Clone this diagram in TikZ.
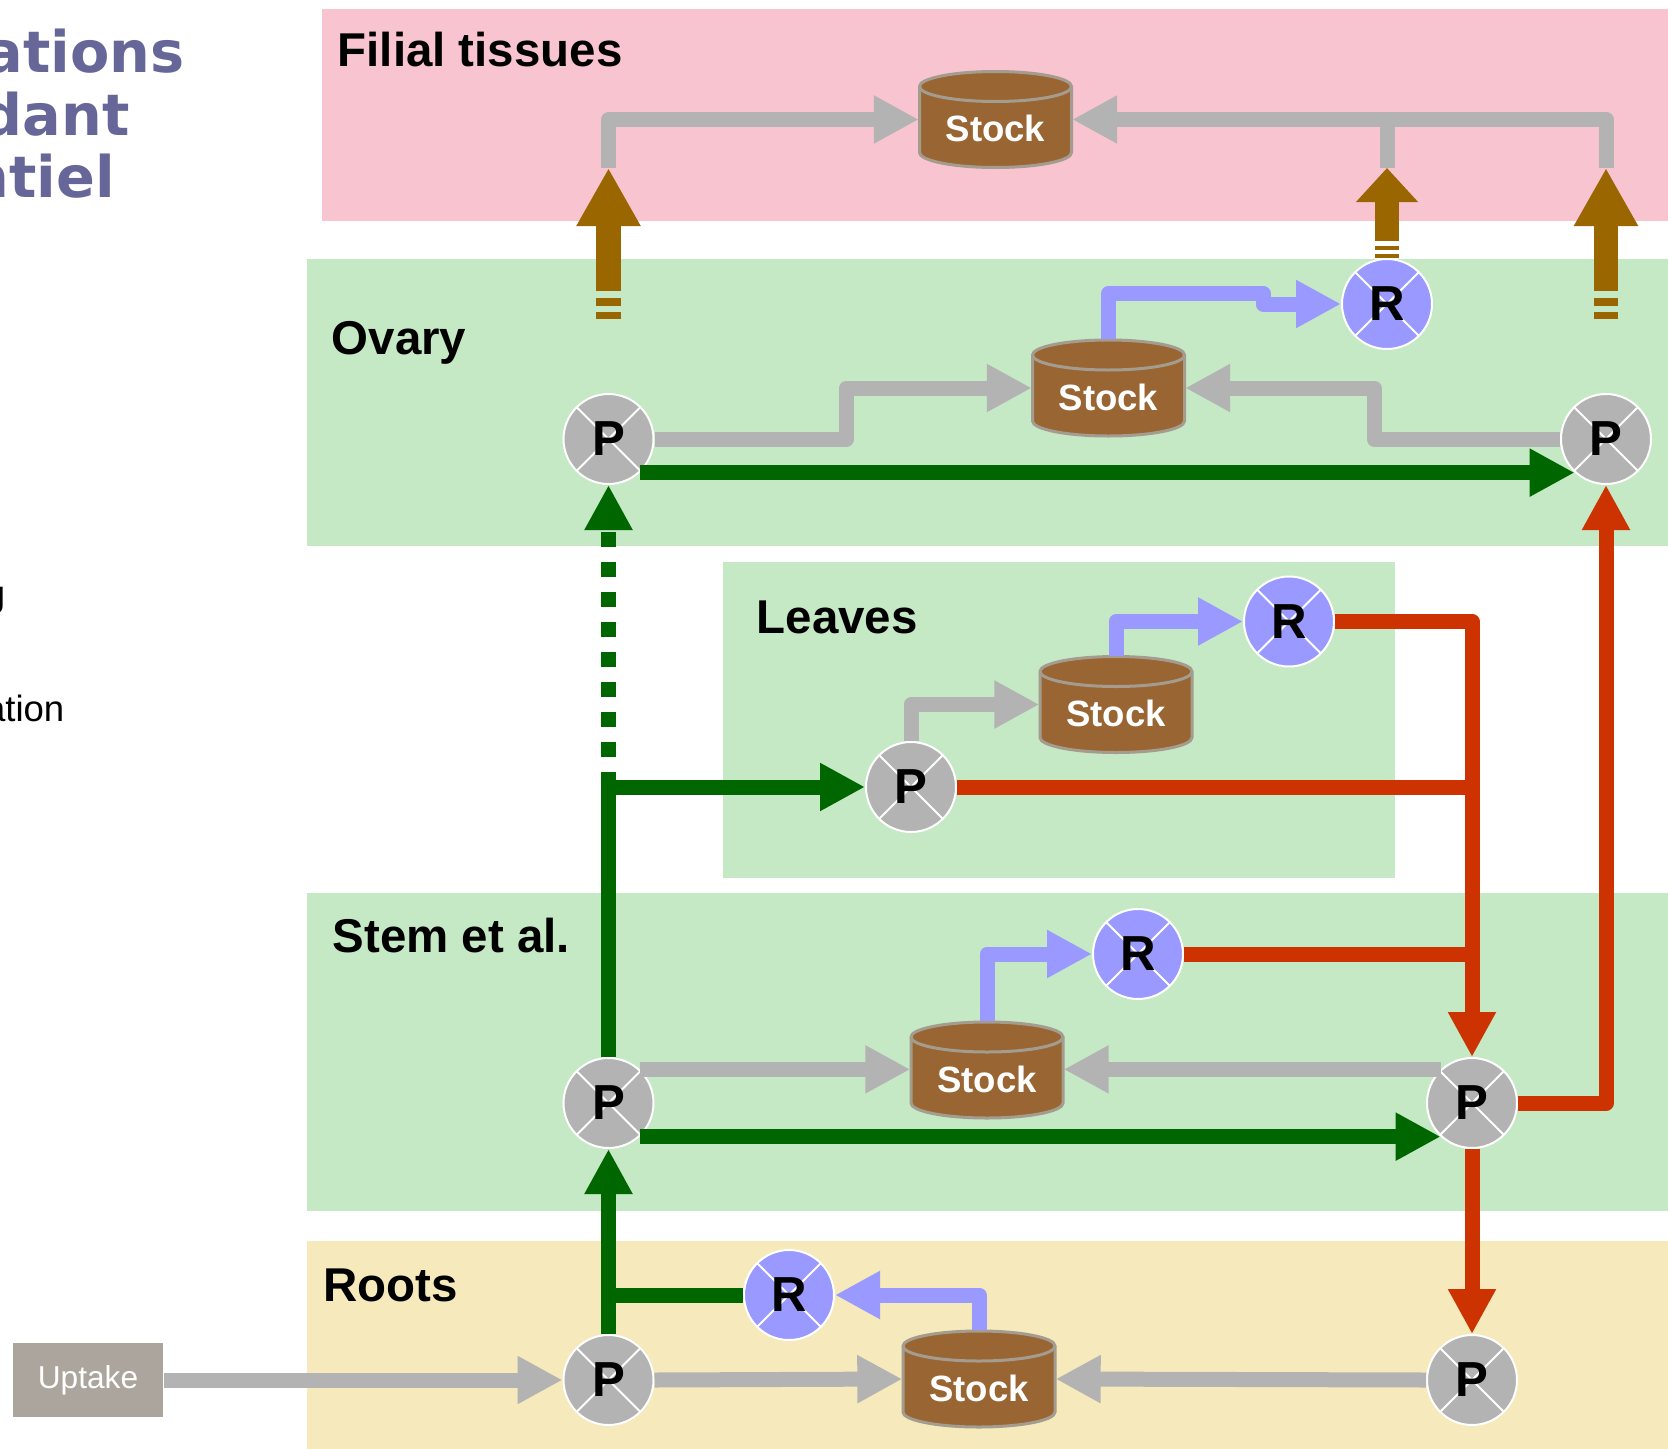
\documentclass[tikz,border=0pt]{standalone}
\usepackage{fontspec}
\setmainfont{Liberation Sans}
\newfontfamily\titlefont{DejaVu Sans}
\usepackage{xcolor}
\usepackage{tikz}
\usetikzlibrary{arrows.meta, positioning, calc}

\definecolor{pinkband}{HTML}{F8C4CF}
\definecolor{greenband}{HTML}{C5E8C5}
\definecolor{yellowband}{HTML}{F6E9BB}
\definecolor{pgray}{HTML}{B3B3B3}
\definecolor{rblue}{HTML}{9999FF}
\definecolor{fred}{HTML}{CC3300}
\definecolor{fgreen}{HTML}{006600}
\definecolor{fbrown}{HTML}{996600}
\definecolor{stockbrown}{HTML}{996633}
\definecolor{stockedge}{HTML}{A39C8F}
\definecolor{titlepurple}{HTML}{666699}
\definecolor{uptakegray}{HTML}{ACA59E}

\tikzset{
  organ/.style={font=\fontsize{13.5}{16}\selectfont\bfseries, anchor=base west, inner sep=0pt},
  titletext/.style={font=\titlefont\fontsize{16.3}{18}\selectfont\bfseries, text=titlepurple, anchor=base west, inner sep=0pt},
  note/.style={font=\fontsize{10.4}{12}\selectfont, anchor=base east, inner sep=0pt},
  pnode/.style={circle, fill=pgray, draw=white, line width=0.2mm, minimum size=0.9cm, inner sep=0pt,
    font=\fontsize{14}{16}\selectfont\bfseries,
    path picture={\draw[white, line width=0.2mm]
      (path picture bounding box.north west) -- (path picture bounding box.south east)
      (path picture bounding box.north east) -- (path picture bounding box.south west);}},
  rnode/.style={pnode, fill=rblue},
  stockbox/.style={minimum width=1.52cm, minimum height=0.96cm, inner sep=0pt, text=white,
    font=\fontsize{10.4}{12}\selectfont\bfseries},
  uptake/.style={fill=uptakegray, text=white, minimum width=1.5cm, minimum height=0.74cm, inner sep=0pt,
    font=\fontsize{9}{11}\selectfont},
  flow/.style={line width=1.5mm, line join=round, -{Triangle[length=4.5mm, width=4.5mm]}},
  flowline/.style={line width=1.5mm, line join=round},
  export/.style={line width=2.45mm, fbrown, -{Triangle[length=5.8mm, width=6mm]}}
}
\newcommand{\stock}[3]{%
  \begin{scope}[shift={(#1,#2)}]
    \filldraw[fill=stockbrown, draw=stockedge, line width=0.3mm]
      (-0.76,0.33) -- (-0.76,-0.33) arc[start angle=180, end angle=360, x radius=0.76, y radius=0.15]
      -- (0.76,0.33) arc[start angle=0, end angle=180, x radius=0.76, y radius=0.15] -- cycle;
    \draw[stockedge, line width=0.3mm] (-0.76,0.33) arc[start angle=180, end angle=360, x radius=0.76, y radius=0.15];
  \end{scope}
  \node[stockbox] (#3) at (#1,#2) {\raisebox{-0.9mm}[\height][\depth]{Stock}};
}

\begin{document}
\begin{tikzpicture}
  \useasboundingbox (0,0) rectangle (16.68,-14.49);

  % Organ bands
  \fill[pinkband] (3.22,-0.09) rectangle (16.68,-2.21);
  \fill[greenband] (3.07,-2.59) rectangle (16.68,-5.46);
  \fill[greenband] (7.23,-5.62) rectangle (13.95,-8.78);
  \fill[greenband] (3.07,-8.93) rectangle (16.68,-12.11);
  \fill[yellowband] (3.07,-12.41) rectangle (16.68,-14.49);

  % Title and side notes
  \node[titletext] (ttl1) at (-0.16,-0.72) {ations};
  \node[titletext] (ttl2) at (-0.19,-1.35) {dant};
  \node[titletext] (ttl3) at (-0.32,-1.97) {ntiel};
  \node[note] (nt1) at (0.06,-6.06) {g};
  \node[note] (nt2) at (0.65,-7.21) {ation};

  % Organ labels
  \node[organ] (lfil)  at (3.37,-0.665) {Filial tissues};
  \node[organ] (lov)   at (3.31,-3.54)  {Ovary};
  \node[organ] (lleaf) at (7.56,-6.33)  {Leaves};
  \node[organ] (lstem) at (3.32,-9.52)  {Stem et al.};
  \node[organ] (lroot) at (3.23,-13.01) {Roots};

  % Stocks
  \stock{9.955}{-1.195}{sfil}
  \stock{11.085}{-3.88}{sov}
  \stock{11.16}{-7.045}{sleaf}
  \stock{9.87}{-10.70}{sst}
  \stock{9.79}{-13.79}{srt}

  % P and R nodes
  \node[pnode] (pov1)  at (6.085,-4.39)  {P};
  \node[pnode] (pov2)  at (16.06,-4.39)  {P};
  \node[pnode] (pleaf) at (9.11,-7.87)   {P};
  \node[pnode] (pst1)  at (6.085,-11.03) {P};
  \node[pnode] (pst2)  at (14.72,-11.03) {P};
  \node[pnode] (prt1)  at (6.085,-13.80) {P};
  \node[pnode] (prt2)  at (14.72,-13.80) {P};
  \node[rnode] (rov)   at (13.87,-3.04)  {R};
  \node[rnode] (rleaf) at (12.89,-6.215) {R};
  \node[rnode] (rst)   at (11.38,-9.54)  {R};
  \node[rnode] (rrt)   at (7.89,-12.95)  {R};
  \node[uptake] (upt)  at (0.88,-13.80)  {Uptake};

  % Export to filial tissues
  \coordinate (tipL) at (6.085,-1.68);
  \coordinate (tipM) at (13.87,-1.68);
  \coordinate (tipR) at (16.06,-1.68);
  \coordinate (baseL) at (6.085,-3.19);
  \coordinate (baseR) at (16.06,-3.19);
  \draw[flow, pgray] (tipL) |- (sfil.west);
  \draw[flow, pgray] (tipR) |- (sfil.east);
  \draw[flowline, pgray] (tipM) -- (tipM |- sfil.east);
  \draw[export, dash pattern=on 0.7mm off 0.6mm on 0.8mm off 0.7mm on 3cm] (baseL) -- (tipL);
  \draw[export, dash pattern=on 0.7mm off 0.6mm on 0.8mm off 0.7mm on 3cm] (baseR) -- (tipR);
  \draw[export, -{Triangle[length=3.4mm, width=6mm]}, dash pattern=on 0.4mm off 0.4mm on 0.4mm off 0.5mm on 3cm] (rov.north) -- (tipM);

  % Ovary
  \draw[flow, pgray] (pov1.east) -- ++(1.92,0) |- (sov.west);
  \draw[flow, pgray] (pov2.west) -- ++(-1.86,0) |- (sov.east);
  \draw[flow, rblue] (sov.north) |- (12.63,-2.935) |- (rov.west);
  \draw[flow, fgreen] (pov1.-47) -- (pov2.-133);

  % Main stem path
  \coordinate (jL) at (pov1 |- pleaf);
  \draw[flow, fgreen, dash pattern=on 1.55mm off 1.45mm] (jL) -- (pov1.south);
  \draw[flowline, fgreen] (pst1.north) -- (jL);
  \draw[flow, fgreen] (jL) -- (pleaf.west);
  \draw[flow, fgreen] (prt1.north) -- (pst1.south);
  \draw[flowline, fgreen] (prt1 |- rrt) -- (rrt.west);

  % Leaves
  \draw[flow, pgray] (pleaf.north) |- (sleaf.west);
  \draw[flow, rblue] (sleaf.north) |- (rleaf.west);
  \draw[flow, fred] (rleaf.east) -| (pst2.north);
  \draw[flowline, fred] (pleaf.east) -- (pleaf -| pst2);
  \draw[flowline, fred] (rst.east) -- (rst -| pst2);

  % Stem
  \draw[flow, pgray] (pst1.47) -- (pst1.47 -| sst.west);
  \draw[flow, pgray] (pst2.133) -- (pst2.133 -| sst.east);
  \draw[flow, rblue] (sst.north) |- (rst.west);
  \draw[flow, fgreen] (pst1.-47) -- (pst2.-133);
  \draw[flow, fred] (pst2.east) -| (pov2.south);
  \draw[flow, fred] (pst2.south) -- (prt2.north);

  % Roots
  \draw[flow, pgray] (upt.east) -- (prt1.west);
  \draw[flow, pgray] (prt1.east) -- (srt.west);
  \draw[flow, pgray] (prt2.west) -- (srt.east);
  \draw[flow, rblue] (srt.north) |- (rrt.east);
\end{tikzpicture}
\end{document}
